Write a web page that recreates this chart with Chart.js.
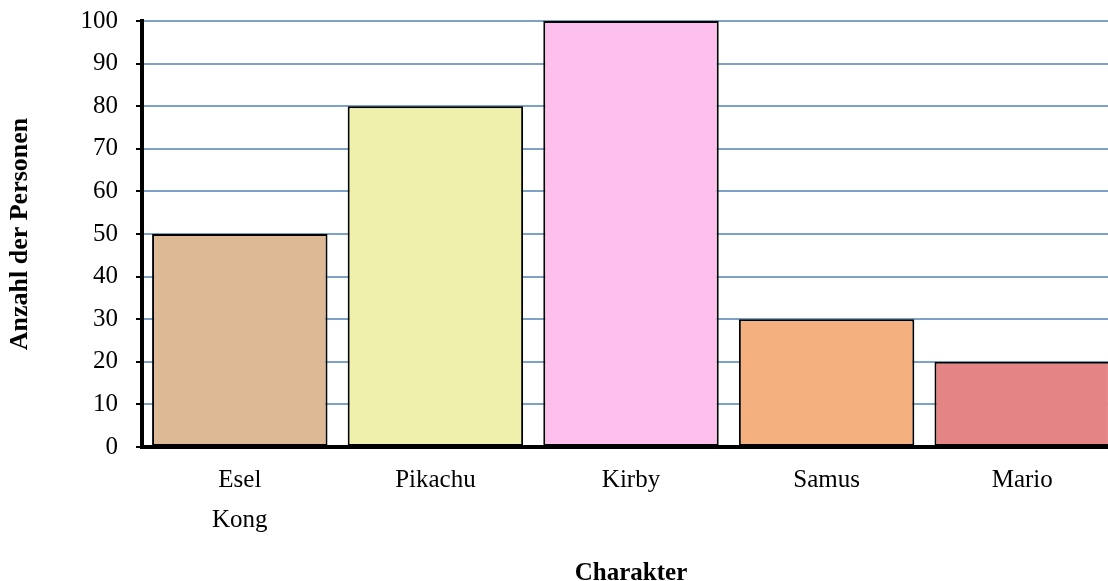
<!DOCTYPE html>
<html>
<head>
<meta charset="utf-8">
<script src="https://cdn.jsdelivr.net/npm/chart.js@4"></script>
<style>
html,body{margin:0;padding:0;background:#fff;overflow:hidden;}
#wrap{width:1120px;height:604px;position:relative;top:-12px;}
</style>
</head>
<body>
<div id="wrap"><canvas id="chart"></canvas></div>
<script>
const categories=[["Esel","Kong"],"Pikachu","Kirby","Samus","Mario"];
const persons=[50,80,100,30,20];
const barColors=["#deb996","#eff0ac","#fdc0ec","#f5b080","#e48484"];
const yTitle="Anzahl der Personen";
const xTitle="Charakter";

const serif="'Liberation Serif','Times New Roman',serif";

new Chart(document.getElementById("chart"),{
type:"bar",
data:{
labels:categories,
datasets:[{
data:persons,
backgroundColor:barColors,
borderColor:"#000",
borderWidth:2,
borderSkipped:false,
categoryPercentage:1,
barPercentage:0.897
}]
},
options:{
responsive:true,
maintainAspectRatio:false,
animation:false,
layout:{padding:{top:0,left:5,right:0,bottom:3}},
plugins:{legend:{display:false},tooltip:{enabled:false}},
scales:{
x:{
grid:{display:false,drawTicks:false},
border:{color:"#000",width:4},
ticks:{color:"#000",padding:13,font:{family:serif,size:25,lineHeight:1.6},maxRotation:0},
title:{display:true,text:xTitle,color:"#000",font:{family:serif,size:25,weight:"bold"},padding:{top:6,bottom:0}}
},
y:{
min:0,max:100,
ticks:{stepSize:10,color:"#000",padding:18,font:{family:serif,size:25}},
grid:{color:"#7ea2c5",lineWidth:2,tickColor:"#000",tickLength:6},
border:{color:"#000",width:4},
title:{display:true,text:yTitle,color:"#000",font:{family:serif,size:26,weight:"bold"},padding:{top:0,bottom:0}},
afterFit:s=>{s.width=137;}
}
}
}
});
</script>
</body>
</html>
